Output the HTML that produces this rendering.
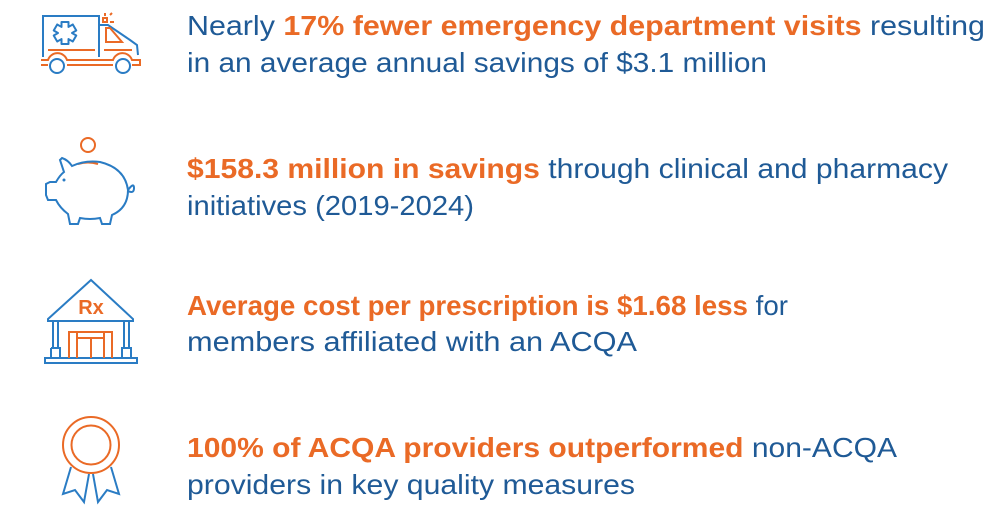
<!DOCTYPE html>
<html><head><meta charset="utf-8"><style>
html,body{margin:0;padding:0;background:#fff;}
svg{display:block}
text{font-family:"Liberation Sans",sans-serif;font-size:28px;fill:#1f5a96}
.o{fill:#ea6a26;font-weight:bold}
</style></head><body>
<svg width="1001" height="524" viewBox="0 0 1001 524" xmlns="http://www.w3.org/2000/svg">
<!-- ambulance -->
<g fill="none" stroke-width="2">
<path d="M43 57 V16 H99 V57" stroke="#2a7cc4"/>
<path d="M99 25 H108 L130 40 L137 45 L138 55" stroke="#2a7cc4"/>
<rect x="103" y="18" width="4" height="4" stroke="#ea6a26"/>
<path d="M105 13 V16 M110 15 L112 13 M110 22 H114" stroke="#ea6a26"/>
<path d="M106 28 V42 H122 L110 28 Z" stroke="#ea6a26"/>
<path d="M48 50 H95 M104 50 H132" stroke="#ea6a26"/>
<path d="M41 60 H48 A10 10 0 0 1 67 60 H113 A10 10 0 0 1 132 60 H140 V65 H132 M113 65 H67 M48 65 H41 Z" stroke="#ea6a26"/>
<circle cx="57" cy="66" r="7" stroke="#2a7cc4"/>
<circle cx="123" cy="66" r="7" stroke="#2a7cc4"/>
<polygon points="61.5,22 68.5,22 68.5,26.94 72.78,24.47 76.28,30.53 72,33 76.28,35.47 72.78,41.53 68.5,39.06 68.5,44 61.5,44 61.5,39.06 57.22,41.53 53.72,35.47 58,33 53.72,30.53 57.22,24.47 61.5,26.94" stroke="#2a7cc4" stroke-linejoin="round"/>
</g>
<!-- piggy -->
<g fill="none" stroke-width="2">
<circle cx="88" cy="145" r="7" stroke="#ea6a26"/>
<path d="M78 164 Q88 161 98 164" stroke="#ea6a26"/>
<path d="M60 160 L62 158 Q68 160 72 166 Q85 160 100 162 Q125 168 128 190 Q128 208 112 215 L110 224 H102 L100 218 Q90 220 80 218 L78 224 H70 L68 214 Q60 208 56 200 H48 L46 195 V184 L50 182 H56 Q60 175 64 172 Z" stroke="#2a7cc4"/>
<circle cx="64" cy="180" r="1.5" fill="#2a7cc4" stroke="none"/>
<path d="M128 190 Q134 182 134 188 Q134 194 128 191" stroke="#2a7cc4"/>
</g>
<!-- bank -->
<g fill="none" stroke-width="2">
<path d="M48 319 L91 280 L133 319 V321 H48 Z" stroke="#2a7cc4"/>
<path d="M53 321 V348 M58 321 V348 M124 321 V348 M129 321 V348 M51 348 H60 V358 M122 358 V348 H131 V358 M51 358 V348" stroke="#2a7cc4"/>
<rect x="45" y="358" width="92" height="5" stroke="#2a7cc4"/>
<path d="M69 358 V332 H112 V358 M77 358 V332 M104 358 V332 M77 338 H104 M91 338 V358" stroke="#ea6a26"/>
<text x="91" y="314" text-anchor="middle" class="o" style="font-size:20px">Rx</text>
</g>
<!-- medal -->
<g fill="none" stroke-width="2">
<circle cx="91" cy="445" r="28" stroke="#ea6a26"/>
<circle cx="91" cy="445" r="19.5" stroke="#ea6a26"/>
<path d="M71 467 L63 494 L75 490 L84 502 L89 474 M111 467 L119 494 L107 490 L98 502 L93 474" stroke="#2a7cc4"/>
</g>
<text x="187" y="35" textLength="798" lengthAdjust="spacingAndGlyphs">Nearly <tspan class="o">17% fewer emergency department visits</tspan> resulting</text>
<text x="187" y="72" textLength="580" lengthAdjust="spacingAndGlyphs">in an average annual savings of $3.1 million</text>
<text x="187" y="178" textLength="761" lengthAdjust="spacingAndGlyphs"><tspan class="o">$158.3 million in savings</tspan> through clinical and pharmacy</text>
<text x="187" y="215" textLength="287" lengthAdjust="spacingAndGlyphs">initiatives (2019-2024)</text>
<text x="187" y="315" textLength="601" lengthAdjust="spacingAndGlyphs"><tspan class="o">Average cost per prescription is $1.68 less</tspan> for</text>
<text x="187" y="351" textLength="450" lengthAdjust="spacingAndGlyphs">members affiliated with an ACQA</text>
<text x="187" y="457" textLength="710" lengthAdjust="spacingAndGlyphs"><tspan class="o">100% of ACQA providers outperformed</tspan> non-ACQA</text>
<text x="187" y="494" textLength="448" lengthAdjust="spacingAndGlyphs">providers in key quality measures</text>
</svg>
</body></html>
